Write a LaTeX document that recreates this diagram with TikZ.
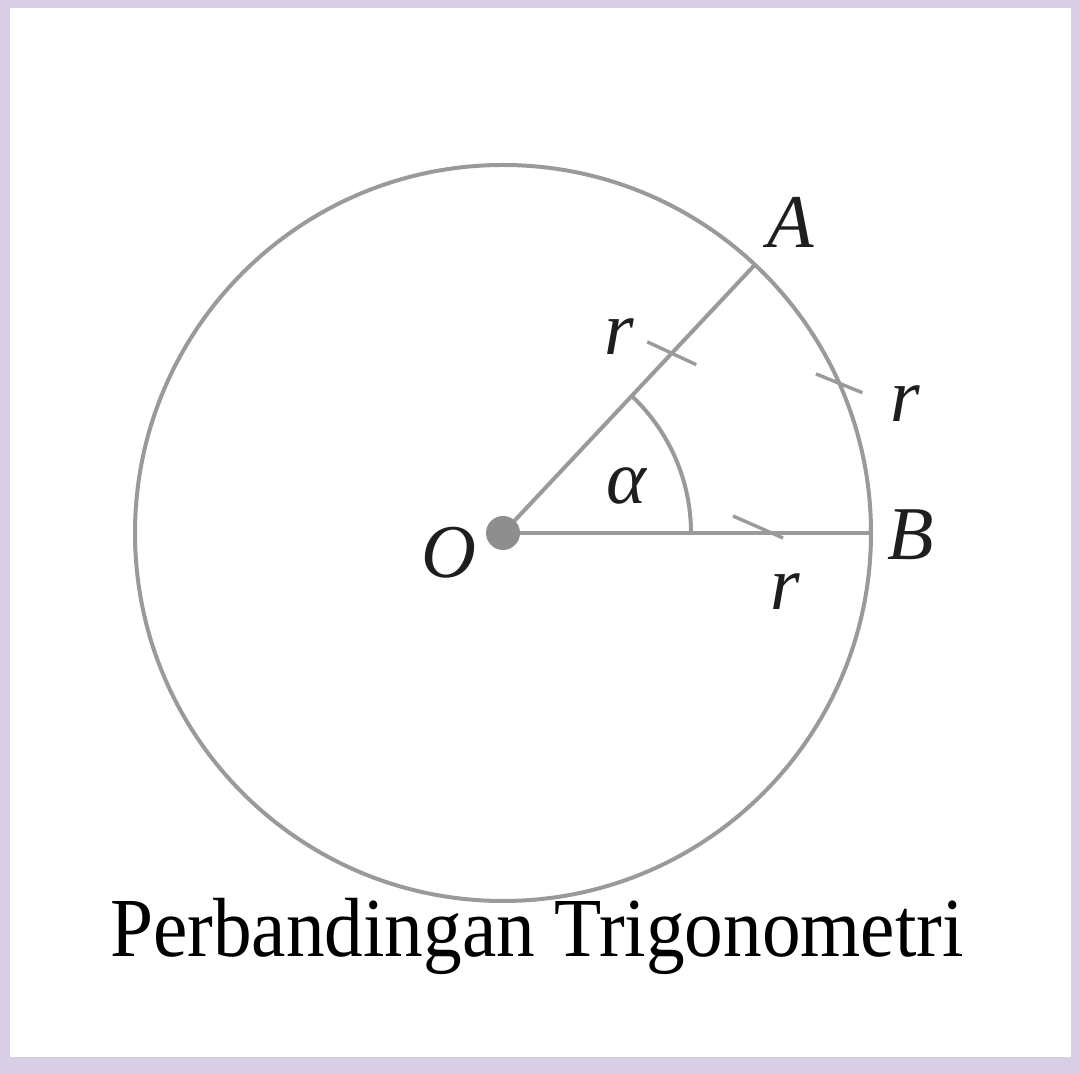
\documentclass[tikz,border=0pt]{standalone}
\usepackage{fontspec}
\setmainfont{Liberation Serif}
\usetikzlibrary{calc}
\definecolor{ink}{HTML}{1E1E1E}
\definecolor{wire}{HTML}{9A9A9A}
\definecolor{dotgray}{HTML}{8E8E8E}
\definecolor{framebg}{HTML}{D8CEE6}
\newcommand{\lblsize}{\fontsize{76}{80}\selectfont}
\newcommand{\capsize}{\fontsize{84}{90}\selectfont}
\tikzset{
  every node/.style={inner sep=0pt},
  wireline/.style={draw=wire, line width=4pt},
  tickline/.style={draw=wire, line width=3.4pt},
  lbl/.style={font=\lblsize\itshape, text=ink},
  ptdot/.style={circle, fill=dotgray, minimum size=34pt},
  caption/.style={font=\capsize, text=black, anchor=base},
}

\begin{document}
\begin{tikzpicture}[x=1pt, y=1pt]

% --- frame and page ---
\useasboundingbox (0,0) rectangle (1080,1073);
\fill[framebg] (0,0) rectangle (1080,1073);
\fill[white] (10,16) rectangle (1071,1065);

% --- points ---
\coordinate (O) at (503,540);
\coordinate (A) at ($(O)+(46.8:368)$);
\coordinate (B) at ($(O)+(368,0)$);
\coordinate (tA) at ($(O)!0.67!(A)$);
\coordinate (tArc) at ($(O)+(24:368)$);
\coordinate (tB) at (771,540);

% --- circle, radii, angle ---
\draw[wireline] (O) circle (368);
\draw[wireline] (O) -- (A);
\draw[wireline] (O) -- (B);
\draw[wireline] ($(O)+(188,0)$) arc (0:46.8:188);
\node[ptdot] (Odot) at (O) {};

% --- equal-length ticks ---
\draw[tickline] ($(tA)+(-25:-27)$) -- ($(tA)+(-25:27)$);
\draw[tickline] ($(tArc)+(-22:-25)$) -- ($(tArc)+(-22:25)$);
\draw[tickline] ($(tB)+(-38,17)$) -- ($(tB)+(12,-5)$);

% --- labels ---
\node[lbl] (labA) at (791,851) {A};
\node[lbl] (labB) at (911,538) {B};
\node[lbl] (labO) at (449,520) {O};
\node[lbl] (rOA) at (619,736) {r};
\node[lbl] (rArc) at (905,669) {r};
\node[lbl] (rOB) at (785,481) {r};
\node[lbl] (alpha) at (626,587) {α};

% --- caption ---
\node[caption] (title) at (537,116) {\scalebox{0.92}[1]{Perbandingan Trigonometri}};

\end{tikzpicture}
\end{document}
